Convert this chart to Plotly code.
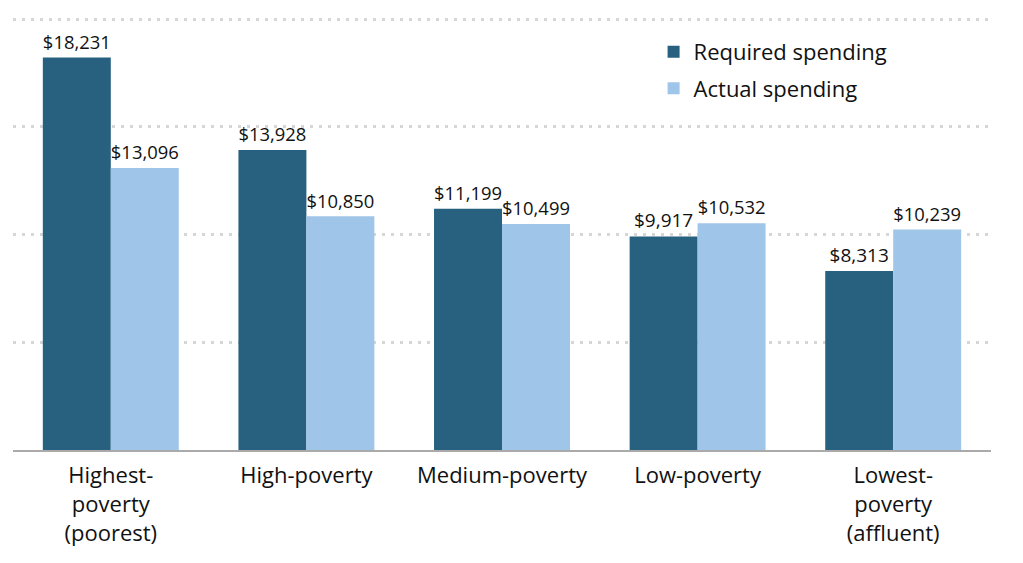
import plotly.graph_objects as go

categories = ["Highest-<br>poverty<br>(poorest)", "High-poverty", "Medium-poverty",
              "Low-poverty", "Lowest-<br>poverty<br>(affluent)"]
required = [18231, 13928, 11199, 9917, 8313]
actual = [13096, 10850, 10499, 10532, 10239]

DARK = "#27617f"
LIGHT = "#9fc5e8"
FONT = "Open Sans"

fig = go.Figure()
for name, vals, col in [("Required spending", required, DARK),
                        ("Actual spending", actual, LIGHT)]:
    fig.add_trace(go.Bar(x=categories, y=vals, name=name, legendgroup=name,
                         marker=dict(color=col, line=dict(width=0)),
                         texttemplate="$%{y:,}", textposition="outside", cliponaxis=False,
                         textfont=dict(family=FONT, size=19, color="#111")))

# the page body adds an 8px margin, so the figure is a little smaller than the window
fig.update_layout(
    width=1015, height=555,
    margin=dict(l=5, r=32, t=10, b=113),
    paper_bgcolor="white", plot_bgcolor="white",
    barmode="group", bargap=0.305, bargroupgap=0,
    font=dict(family=FONT, size=19, color="#111"),
    showlegend=True,
    legend=dict(x=0.655, y=0.97, xanchor="left", yanchor="top",
                font=dict(family=FONT, size=22, color="#111"),
                traceorder="grouped", tracegroupgap=5),
)
fig.update_xaxes(showline=True, linecolor="#aaaaaa", linewidth=2, ticks="",
                 ticklabelstandoff=5,
                 tickfont=dict(family=FONT, size=22, color="#111"), showgrid=False)
fig.update_yaxes(range=[0, 20060], tickvals=[5000, 10000, 15000, 20000], showticklabels=False,
                 showgrid=True, gridcolor="#d6d6d6", gridwidth=3, griddash="3px,6px",
                 zeroline=False)

fig.write_html("out.html")
